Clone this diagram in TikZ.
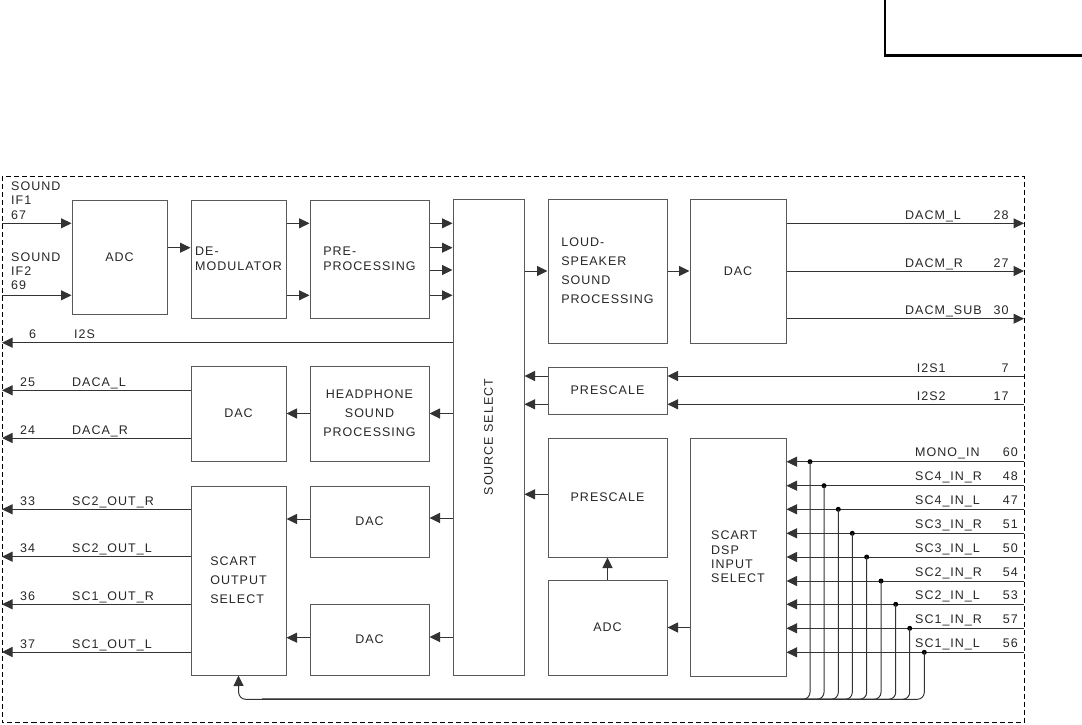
\documentclass[tikz,border=0pt]{standalone}
\usepackage{fontspec}
\setmainfont{Liberation Sans}[LetterSpace=8]
\usetikzlibrary{arrows.meta}

\begin{document}
\begin{tikzpicture}[x=1pt, y=-1pt,
  every node/.style={font=\fontsize{12.5}{15}\selectfont, text=black!85, inner sep=0pt},
  blk/.style={draw=black!65, line width=1pt, align=left},
  tall/.style={font=\fontsize{12.5}{19}\selectfont},
  tight/.style={font=\fontsize{12.5}{14.3}\selectfont},
  wire/.style={draw=black!80, line width=1pt},
  arr/.style={wire, -{Triangle[length=10.5pt,width=10pt]}},
  jdot/.style={circle, fill=black, minimum size=5pt},
  lblw/.style={anchor=base west},
  lble/.style={anchor=base east}]
  \useasboundingbox (0,0) rectangle (1082,724);

  \draw[line width=2.5pt] (885,0) -- (885,55.5) -- (1082,55.5);
  \draw[dash pattern=on 5pt off 3pt, line width=.9pt] (2,176) rectangle (1024,722.5);

  % blocks
  \node[blk, minimum width=95, minimum height=114] (adcin) at (119.5,257) {ADC};
  \node[blk, minimum width=95, minimum height=118] (demod) at (238.5,259) {DE-\\MODULATOR};
  \node[blk, minimum width=119, minimum height=118] (prepro) at (369.5,259) {PRE-\\PROCESSING};
  \node[blk, minimum width=71, minimum height=476,
        label={[rotate=90]center:SOURCE SELECT}] (srcsel) at (488.5,437) {};
  \node[blk, tall, minimum width=119, minimum height=144] (lsproc) at (607.5,271) {LOUD-\\SPEAKER\\SOUND\\PROCESSING};
  \node[blk, minimum width=96, minimum height=144] (dacm) at (738,271) {DAC};
  \node[blk, minimum width=119, minimum height=47] (prescA) at (607.5,390.5) {PRESCALE};
  \node[blk, minimum width=119, minimum height=119] (prescB) at (607.5,497.5) {PRESCALE};
  \node[blk, minimum width=119, minimum height=95] (adcsc) at (607.5,627.5) {ADC};
  \node[blk, tight, minimum width=96, minimum height=238] (scdsp) at (738,557) {SCART\\DSP\\INPUT\\SELECT};
  \node[blk, minimum width=95, minimum height=95] (daca) at (238.5,413.5) {DAC};
  \node[blk, tall, align=center, minimum width=119, minimum height=95] (hpproc) at (369.5,413.5) {HEADPHONE\\SOUND\\PROCESSING};
  \node[blk, tall, minimum width=95, minimum height=189] (scout) at (238.5,580.5) {SCART\\OUTPUT\\SELECT};
  \node[blk, minimum width=119, minimum height=71] (dacsc1) at (369.5,521.5) {DAC};
  \node[blk, minimum width=119, minimum height=71] (dacsc2) at (369.5,639.5) {DAC};

  % sound IF inputs
  \node[tight, anchor=north west, align=left] (if1txt) at (11,181.5) {SOUND\\IF1\\67};
  \node[tight, anchor=north west, align=left] (if2txt) at (11,252.3) {SOUND\\IF2\\69};
  \coordinate (if1) at (2,223.3);
  \coordinate (if2) at (2,295.3);
  \draw[arr] (if1) -- (adcin.west |- if1);
  \draw[arr] (if2) -- (adcin.west |- if2);

  % main chain
  \draw[arr] (adcin.east |- 0,247.7) -- (demod.west |- 0,247.7);
  \foreach \yy in {223.3,295.3}
    \draw[arr] (demod.east |- 0,\yy) -- (prepro.west |- 0,\yy);
  \foreach \yy in {223.3,247.7,270,295.3}
    \draw[arr] (prepro.east |- 0,\yy) -- (srcsel.west |- 0,\yy);
  \draw[arr] (srcsel.east |- lsproc) -- (lsproc.west);
  \draw[arr] (lsproc) -- (dacm);
  \foreach \yy/\sig/\nr in {223.3/DACM\_L/28, 271/DACM\_R/27, 318.7/DACM\_SUB/30}{
    \coordinate (o\nr) at (1024,\yy);
    \draw[arr] (dacm.east |- o\nr) -- (o\nr);
    \node[lblw] (s\nr) at (905,\yy-4) {\sig};
    \node[lble] (n\nr) at (1008.7,\yy-4) {\nr};
  }

  % I2S
  \coordinate (o6) at (2,342.7);
  \draw[arr] (srcsel.west |- o6) -- (o6);
  \node[lblw] (n6) at (29,338.7) {6};
  \node[lblw] (s6) at (74,338.7) {I2S};
  \foreach \yy/\sig/\nr in {376/I2S1/7, 404.3/I2S2/17}{
    \coordinate (i\nr) at (1024,\yy);
    \draw[arr] (i\nr) -- (prescA.east |- i\nr);
    \draw[arr] (prescA.west |- i\nr) -- (srcsel.east |- i\nr);
    \node[lblw] (s\nr) at (916.7,\yy-4) {\sig};
    \node[lble] (n\nr) at (1008.7,\yy-4) {\nr};
  }
  \draw[arr] (prescB.west |- 0,494.3) -- (srcsel.east |- 0,494.3);
  \draw[arr] (adcsc) -- (prescB);
  \draw[arr] (scdsp.west |- adcsc) -- (adcsc.east);

  % headphone and scart outputs
  \draw[arr] (srcsel.west |- hpproc) -- (hpproc.east);
  \draw[arr] (hpproc) -- (daca);
  \draw[arr] (srcsel.west |- 0,518) -- (dacsc1.east |- 0,518);
  \draw[arr] (srcsel.west |- 0,637) -- (dacsc2.east |- 0,637);
  \draw[arr] (dacsc1.west |- 0,519) -- (scout.east |- 0,519);
  \draw[arr] (dacsc2.west |- 0,637.7) -- (scout.east |- 0,637.7);
  \foreach \yy/\nr/\sig in {390.3/25/DACA\_L, 438/24/DACA\_R}{
    \coordinate (o\nr) at (2,\yy);
    \draw[arr] (daca.west |- o\nr) -- (o\nr);
    \node[lblw] (n\nr) at (20,\yy-4) {\nr};
    \node[lblw] (s\nr) at (72,\yy-4) {\sig};
  }
  \foreach \yy/\nr/\sig in {509.3/33/SC2\_OUT\_R, 556.7/34/SC2\_OUT\_L,
                            604.3/36/SC1\_OUT\_R, 652/37/SC1\_OUT\_L}{
    \coordinate (o\nr) at (2,\yy);
    \draw[arr] (scout.west |- o\nr) -- (o\nr);
    \node[lblw] (n\nr) at (20,\yy-4) {\nr};
    \node[lblw] (s\nr) at (72,\yy-4) {\sig};
  }

  % scart inputs and loop back bus
  \coordinate (bus) at (238.7,699.3);
  \coordinate (busr) at (262,699.3);
  \foreach \yy/\xx/\sig/\nr [count=\k] in {461.7/810/MONO\_IN/60, 485.7/824/SC4\_IN\_R/48,
      509.3/838.3/SC4\_IN\_L/47, 533.3/852.3/SC3\_IN\_R/51, 557/866.7/SC3\_IN\_L/50,
      581/881/SC2\_IN\_R/54, 604.3/895.7/SC2\_IN\_L/53, 628.3/909.7/SC1\_IN\_R/57,
      652.3/924.3/SC1\_IN\_L/56}{
    \coordinate (i\nr) at (1024,\yy);
    \draw[arr] (i\nr) -- (scdsp.east |- i\nr);
    \node[jdot] (d\k) at (\xx,\yy) {};
    \draw[wire, rounded corners=7pt] (d\k.center) |- (busr);
    \node[lblw] (s\nr) at (915,\yy-5) {\sig};
    \node[lble] (n\nr) at (1018,\yy-5) {\nr};
  }
  \draw[arr, rounded corners=7pt] (busr) -- (bus) -- (scout.south);
\end{tikzpicture}
\end{document}
